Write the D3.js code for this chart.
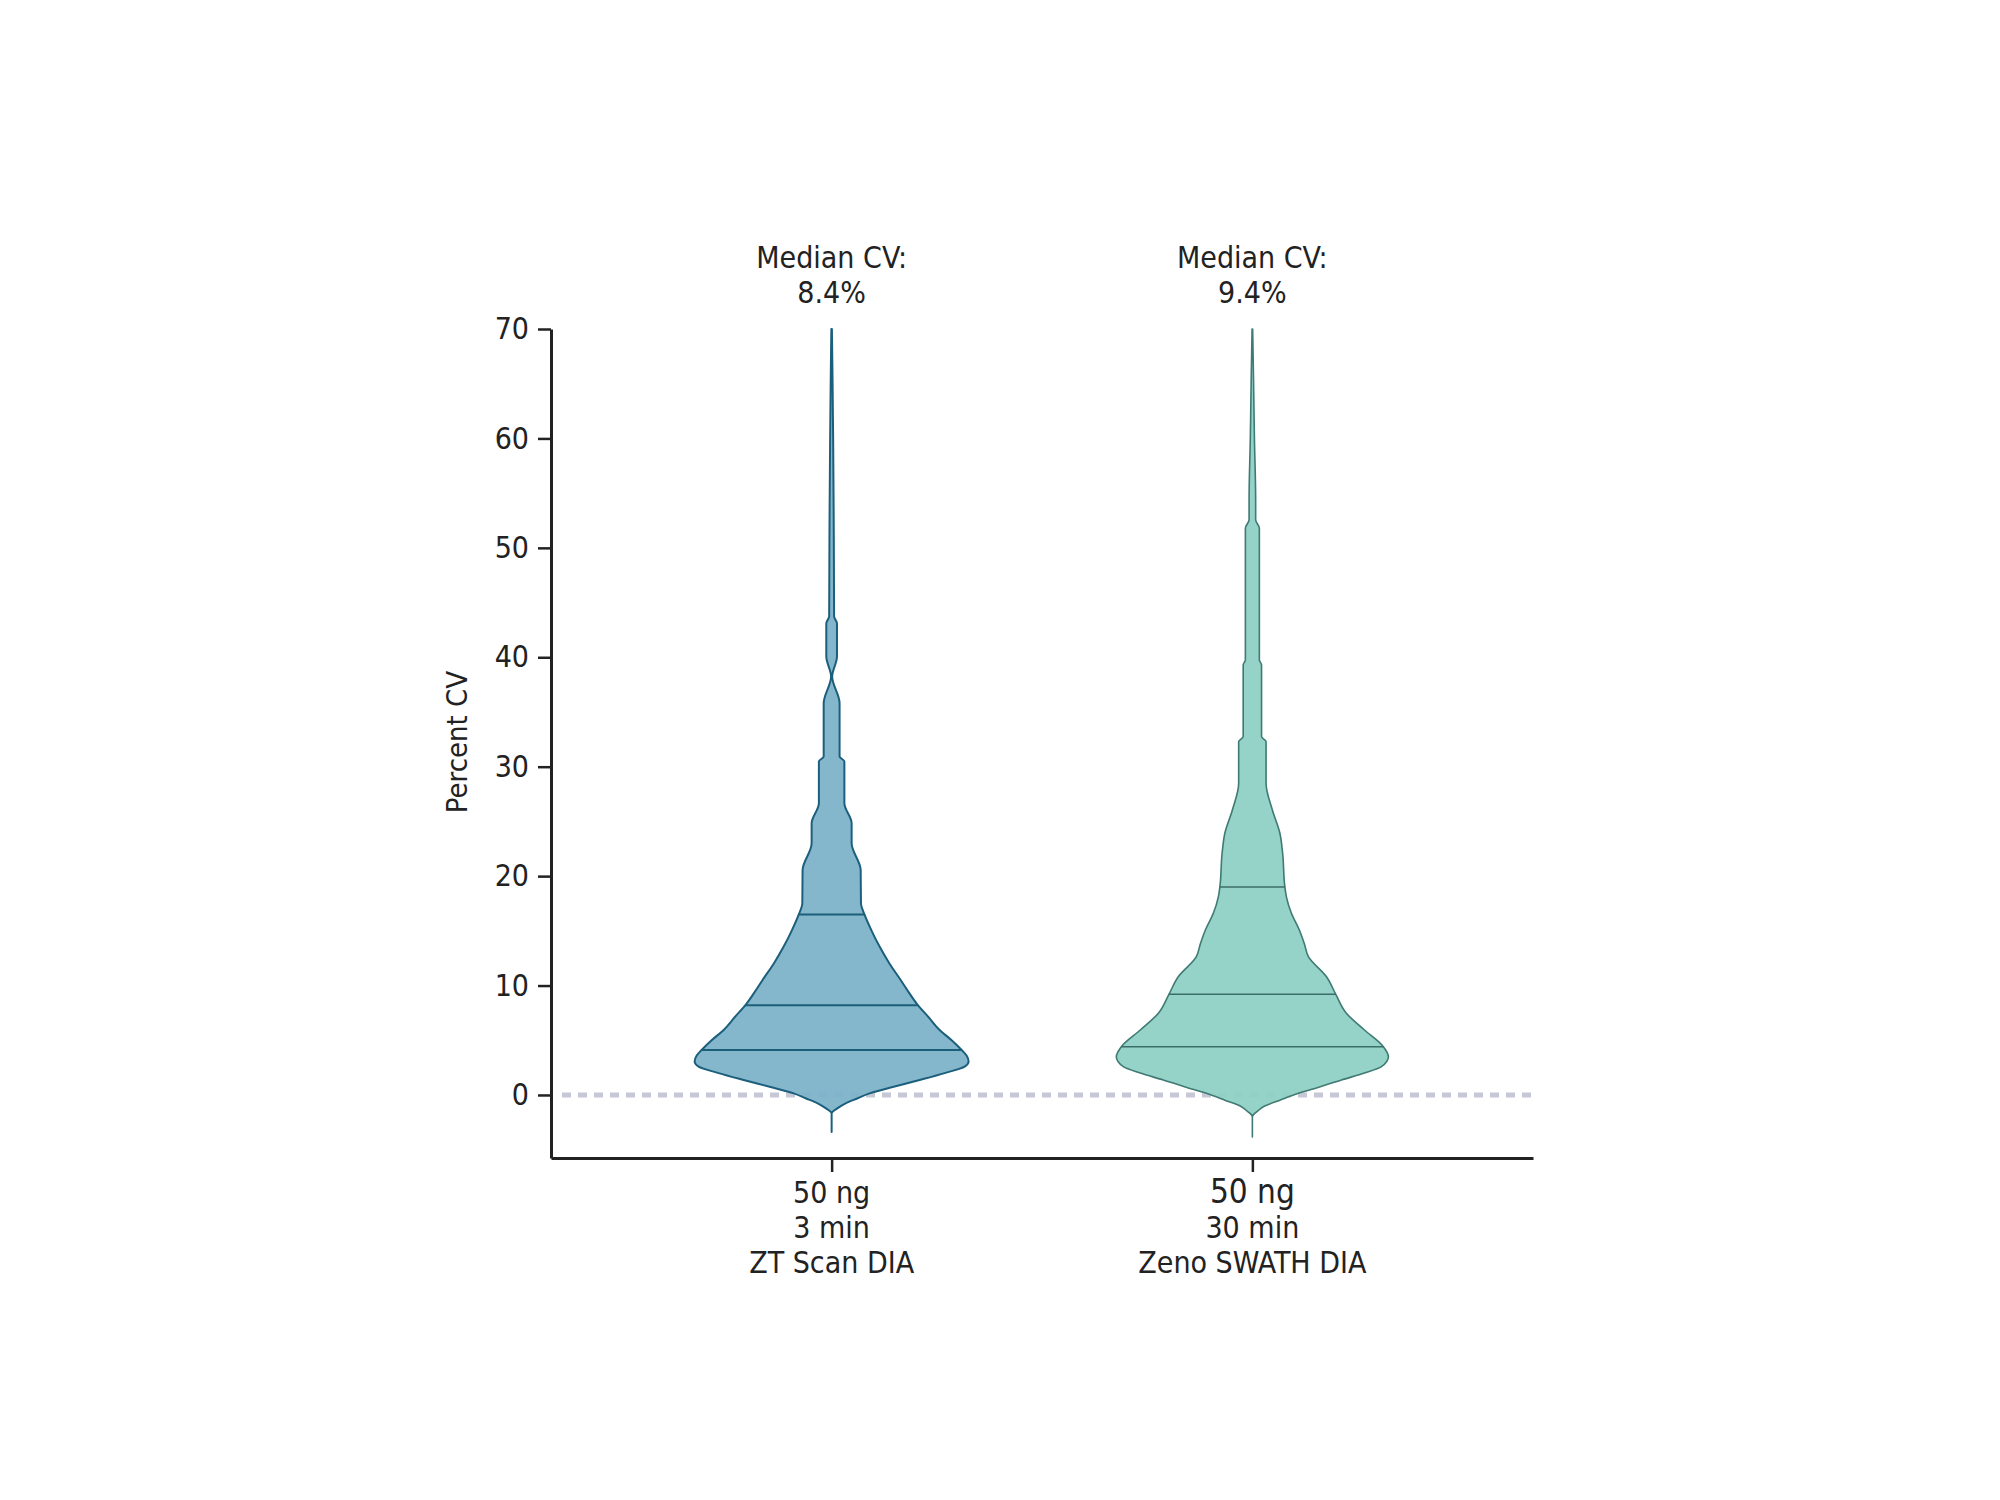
<!DOCTYPE html>
<html>
<head>
<meta charset="utf-8">
<script src="https://cdn.jsdelivr.net/npm/d3@7"></script>
<style>
  body { margin: 0; background: #fff; }
  svg text { font-family: "Liberation Sans Narrow", "DejaVu Sans Condensed", "Roboto Condensed", sans-serif; fill: #222; }
</style>
</head>
<body>
<svg width="2000" height="1500"></svg>
<script>
    // categories (multi-line x labels) and the median text above each violin
    var categories = ['ZT', 'Zeno']
    var catLabels = [['50 ng', '3 min', 'ZT Scan DIA'], ['50 ng', '30 min', 'Zeno SWATH DIA']]
    var medianText = ['8.4%', '9.4%']

    // density profiles (cv value, relative density 0..1)
    var cvZT = [-3.38, -1.68, -1.2, -0.76, -0.3, 0.15, 0.75, 1.37, 2.0, 2.59, 3.05, 3.6, 4.11, 5.0, 5.94, 7.1, 8.23, 9.4, 10.51, 12.0, 13.56, 15.0, 16.52, 17.52, 20.57, 23.0, 24.83, 26.66, 30.47, 30.93, 35.8, 38.24, 40.06, 43.12, 43.72, 50.6, 60, 65, 70]
    var denZT = [0, 0, 0.044, 0.102, 0.19, 0.277, 0.453, 0.642, 0.825, 0.971, 1.0, 0.985, 0.949, 0.876, 0.788, 0.708, 0.628, 0.562, 0.504, 0.423, 0.35, 0.292, 0.239, 0.214, 0.212, 0.146, 0.146, 0.093, 0.093, 0.058, 0.058, 0.004, 0.039, 0.039, 0.018, 0.016, 0.011, 0.007, 0.002]

    var cvZeno = [-3.84, -1.98, -1.5, -1.07, -0.5, 0.15, 0.75, 1.37, 2.0, 2.59, 3.5, 4.42, 5.94, 7.47, 9.2, 10.82, 12.64, 13.8, 15.08, 16.6, 18.13, 19.04, 22.09, 23.92, 26.05, 28.49, 32.3, 32.75, 39.3, 39.76, 51.8, 52.56, 54.39, 60, 65, 70]
    var denZeno = [0, 0, 0.036, 0.08, 0.197, 0.336, 0.496, 0.65, 0.818, 0.942, 0.993, 0.956, 0.818, 0.686, 0.609, 0.54, 0.409, 0.38, 0.343, 0.285, 0.248, 0.237, 0.221, 0.201, 0.146, 0.1, 0.1, 0.067, 0.067, 0.051, 0.051, 0.024, 0.024, 0.015, 0.009, 0.002]

    // quartiles (lower, median, upper)
    var quartZT = [4.1, 8.2, 16.5]
    var quartZeno = [4.4, 9.2, 19.0]

    var yTicks = [0, 10, 20, 30, 40, 50, 60, 70]

    var violins = [
      {cat: 'ZT', cv: cvZT, den: denZT, q: quartZT, fill: '#7db3c9', stroke: '#1c5f7c', qStroke: '#1d5f78', sw: 2},
      {cat: 'Zeno', cv: cvZeno, den: denZeno, q: quartZeno, fill: '#8fd0c5', stroke: '#3f7a73', qStroke: '#3b6e69', sw: 1.6}
    ]

    var margin = {top: 329, bottom: 342, left: 551, right: 467}
    var width = 2000
    var height = 1500

    var xScale = d3.scalePoint()
      .domain(categories)
      .range([margin.left, width - margin.right])
      .padding(0.667)

    var yScale = d3.scaleLinear()
      .domain([-5.76, 70])
      .range([height - margin.bottom, margin.top])

    var wScale = d3.scaleLinear()
      .domain([0, 1])
      .range([0, 137])

    var svg = d3.select('svg')

    svg.append('rect').attr('width', width).attr('height', height).attr('fill', '#fff')

    // zero reference line (behind violins)
    svg.append('line')
      .attr('x1', margin.left + 11)
      .attr('x2', width - margin.right)
      .attr('y1', yScale(0))
      .attr('y2', yScale(0))
      .attr('stroke', '#c6c8d5')
      .attr('stroke-width', 5)
      .attr('stroke-dasharray', '9,7')

    violins.forEach(function (v) {
      var cx = xScale(v.cat)
      var pts = v.cv.map((c, i) => ({cv: c, d: v.den[i]}))

      var area = d3.area()
        .curve(d3.curveMonotoneY)
        .y(d => yScale(d.cv))
        .x0(d => cx - wScale(d.d))
        .x1(d => cx + wScale(d.d))

      svg.append('path')
        .datum(pts)
        .attr('d', area)
        .attr('fill', v.fill)
        .attr('fill-opacity', 0.95)
        .attr('stroke', v.stroke)
        .attr('stroke-width', v.sw)
        .attr('stroke-linejoin', 'round')

      // width at a given cv, linear between read points
      var denAt = d3.scaleLinear().domain(v.cv).range(v.den)

      svg.selectAll(null)
        .data(v.q)
        .enter().append('line')
        .attr('x1', d => cx - wScale(denAt(d)))
        .attr('x2', d => cx + wScale(denAt(d)))
        .attr('y1', d => yScale(d))
        .attr('y2', d => yScale(d))
        .attr('stroke', v.qStroke)
        .attr('stroke-width', v.sw)
    })

    // y axis
    var yAxis = d3.axisLeft(yScale)
      .tickValues(yTicks)
      .tickSize(13)
      .tickSizeOuter(0)
      .tickPadding(9)

    var gy = svg.append('g')
      .attr('transform', 'translate(' + [margin.left, 0] + ')')
      .call(yAxis)
    gy.select('.domain').attr('stroke', '#222').attr('stroke-width', 3)
    gy.selectAll('.tick line').attr('stroke', '#222').attr('stroke-width', 2.5)
    gy.selectAll('.tick text').attr('font-size', 30).attr('fill', '#222')
      .style('font-family', '"Liberation Sans Narrow", "DejaVu Sans Condensed", sans-serif')

    // x axis
    var xAxis = d3.axisBottom(xScale)
      .tickSize(14)
      .tickSizeOuter(0)
      .tickFormat('')

    var gx = svg.append('g')
      .attr('transform', 'translate(' + [0, height - margin.bottom] + ')')
      .call(xAxis)
    gx.select('.domain').attr('stroke', '#222').attr('stroke-width', 3)
    gx.selectAll('.tick line').attr('stroke', '#222').attr('stroke-width', 2.5)

    // multi-line category labels
    categories.forEach(function (c, i) {
      var t = svg.append('text')
        .attr('x', xScale(c))
        .attr('y', height - margin.bottom + 45)
        .attr('text-anchor', 'middle')
        .attr('font-size', 30)
      catLabels[i].forEach(function (line, j) {
        t.append('tspan')
          .attr('x', xScale(c))
          .attr('dy', j === 0 ? 0 : 35)
          .attr('font-size', j === 0 && i === 1 ? 33 : 30)
          .text(line)
      })
    })

    // median annotations
    categories.forEach(function (c, i) {
      svg.append('text')
        .attr('x', xScale(c))
        .attr('y', margin.top - 61)
        .attr('text-anchor', 'middle')
        .attr('font-size', 30)
        .text('Median CV:')
      svg.append('text')
        .attr('x', xScale(c))
        .attr('y', margin.top - 26)
        .attr('text-anchor', 'middle')
        .attr('font-size', 30)
        .text(medianText[i])
    })

    // y axis title
    svg.append('text')
      .attr('transform', 'translate(' + [467, 742] + ') rotate(-90)')
      .attr('text-anchor', 'middle')
      .attr('font-size', 29)
      .text('Percent CV')
</script>
</body>
</html>
